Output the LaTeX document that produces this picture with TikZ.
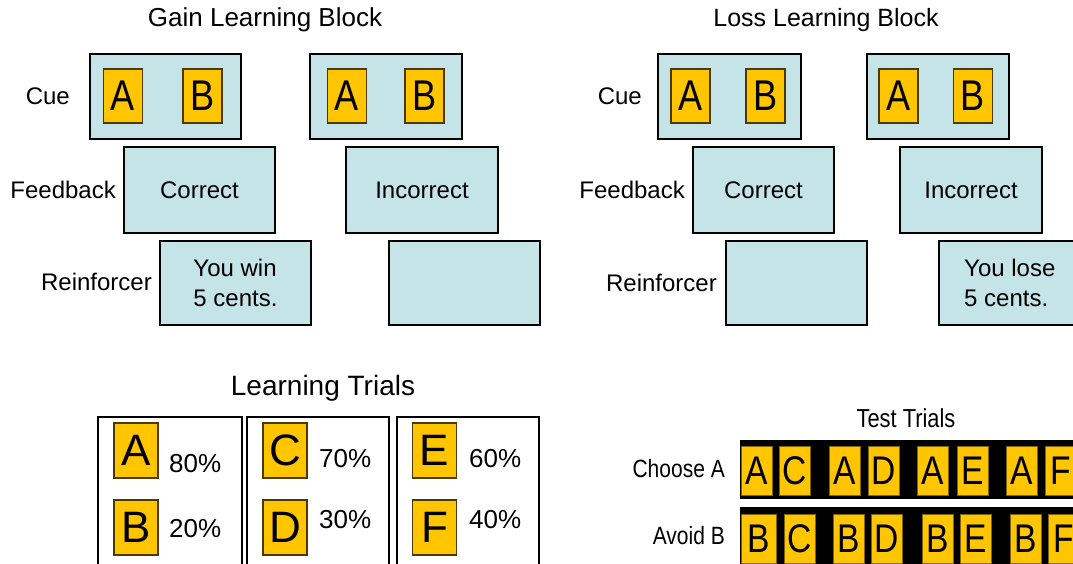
\documentclass[tikz,border=0pt]{standalone}
\usepackage{fontspec}
\setmainfont{Liberation Sans}
\newfontfamily\condfont[FakeStretch=0.84]{Liberation Sans}
\definecolor{paneblue}{HTML}{C5E4E8}
\definecolor{tilegold}{HTML}{FFC600}
\definecolor{tileedge}{HTML}{4A3A00}
\begin{document}
\begin{tikzpicture}[x=1pt,y=-1pt,
  pane/.style 2 args={draw=black,fill=paneblue,line width=2pt,inner sep=0pt,
    minimum width=#1,minimum height=#2},
  frame/.style 2 args={draw=black,fill=white,line width=2pt,inner sep=0pt,
    minimum width=#1,minimum height=#2},
  bar/.style 2 args={fill=black,inner sep=0pt,minimum width=#1,minimum height=#2},
  cuetile/.style={draw=tileedge,fill=tilegold,line width=1.2pt,inner sep=0pt,
    minimum width=39pt,minimum height=54pt,font=\condfont\fontsize{43}{43}\selectfont},
  optile/.style={draw=tileedge,fill=tilegold,line width=1.2pt,inner sep=0pt,
    minimum width=44pt,minimum height=55pt,font=\fontsize{44}{44}\selectfont},
  testtile/.style={draw=tileedge!70!tilegold,fill=tilegold,line width=0.8pt,inner sep=0pt,
    minimum width=#1,minimum height=49pt,font=\condfont\fontsize{40}{40}\selectfont},
  testtile/.default=31pt,
  title/.style={anchor=base,inner sep=0pt,font=\fontsize{26}{30}\selectfont},
  rowlabel/.style={anchor=base east,inner sep=0pt,font=\fontsize{24}{28}\selectfont},
  panetext/.style={inner sep=0pt,font=\fontsize{24}{30}\selectfont},
  pct/.style={anchor=base west,inner sep=0pt,font=\fontsize{26}{28}\selectfont},
  testlabel/.style={anchor=base east,inner sep=0pt,font=\condfont\fontsize{25}{28}\selectfont},
]
\useasboundingbox (0,0) rectangle (1073,564);

% ---------------- Gain learning block ----------------
\node[title] (gaintitle) at (265,27) {Gain Learning Block};
\node[rowlabel] (gaincue) at (70,105) {Cue};
\node[rowlabel] (gainfb) at (116,199) {Feedback};
\node[rowlabel] (gainre) at (152,290) {Reinforcer};

\node[pane={151pt}{85pt}] (gcue1) at (165.5,96.5) {};
\node[cuetile] (gcue1a) at (123,96) {A};
\node[cuetile] (gcue1b) at (202.5,96) {B};
\node[pane={152pt}{85pt}] (gcue2) at (386,96.5) {};
\node[cuetile] (gcue2a) at (347,96) {A};
\node[cuetile] (gcue2b) at (424.5,96) {B};

\node[pane={151pt}{86pt}] (gfb1) at (199.5,190) {};
\node[panetext] (gfb1t) at (gfb1) {Correct};
\node[pane={152pt}{86pt}] (gfb2) at (422,190) {};
\node[panetext] (gfb2t) at (gfb2) {Incorrect};

\node[pane={151pt}{84pt}] (gre1) at (235.5,283) {};
\node[panetext,align=left] (gre1t) at (gre1) {You win\\5 cents.};
\node[pane={151pt}{84pt}] (gre2) at (464.5,283) {};

% ---------------- Loss learning block ----------------
\node[title,font=\fontsize{25}{30}\selectfont] (losstitle) at (826,27) {Loss Learning Block};
\node[rowlabel] (losscue) at (642,105) {Cue};
\node[rowlabel] (lossfb) at (685,199) {Feedback};
\node[rowlabel] (lossre) at (717,291) {Reinforcer};

\node[pane={143pt}{85pt}] (lcue1) at (729.5,96.5) {};
\node[cuetile] (lcue1a) at (690.5,96) {A};
\node[cuetile] (lcue1b) at (765.5,96) {B};
\node[pane={142pt}{85pt}] (lcue2) at (938,96.5) {};
\node[cuetile] (lcue2a) at (898.5,96) {A};
\node[cuetile] (lcue2b) at (973,96) {B};

\node[pane={141pt}{86pt}] (lfb1) at (763.5,190) {};
\node[panetext] (lfb1t) at (lfb1) {Correct};
\node[pane={142pt}{86pt}] (lfb2) at (971,190) {};
\node[panetext] (lfb2t) at (lfb2) {Incorrect};

\node[pane={141pt}{84pt}] (lre1) at (796.5,283) {};
\node[pane={150pt}{84pt}] (lre2) at (1014,283) {};
\node[panetext,align=left,anchor=west] (lre2t) at (964,283) {You lose\\5 cents.};

% ---------------- Learning trials ----------------
\node[title,font=\fontsize{28}{32}\selectfont] (lttitle) at (323,395) {Learning Trials};

\node[frame={144pt}{170pt}] (lt1) at (170,502) {};
\node[frame={142pt}{170pt}] (lt2) at (318,502) {};
\node[frame={142pt}{170pt}] (lt3) at (468,502) {};

\node[optile] (ta) at (136,450.5) {A};
\node[optile] (tb) at (136,527.5) {B};
\node[optile] (tc) at (285,450.5) {C};
\node[optile] (td) at (285,527.5) {D};
\node[optile] (te) at (434.5,450.5) {E};
\node[optile] (tf) at (434.5,527.5) {F};

\node[pct] (pa) at (169,472) {80\%};
\node[pct] (pb) at (169,537) {20\%};
\node[pct] (pc) at (319,467) {70\%};
\node[pct] (pd) at (319,528) {30\%};
\node[pct] (pe) at (469,467) {60\%};
\node[pct] (pf) at (469,528) {40\%};

% ---------------- Test trials ----------------
\node[title,font=\condfont\fontsize{26}{30}\selectfont] (tttitle) at (906,427) {Test Trials};
\node[testlabel] (choose) at (725,477) {Choose A};
\node[testlabel] (avoid) at (725,544) {Avoid B};

\node[bar={340pt}{59pt},anchor=north west] (bar1) at (740,440) {};
\node[bar={340pt}{70pt},anchor=north west] (bar2) at (740,507) {};

\node[testtile] (c1) at (757,470.5) {A};
\node[testtile] (c2) at (795,470.5) {C};
\node[testtile] (c3) at (844.5,470.5) {A};
\node[testtile] (c4) at (883.5,470.5) {D};
\node[testtile] (c5) at (933,470.5) {A};
\node[testtile] (c6) at (972.5,470.5) {E};
\node[testtile] (c7) at (1021.5,470.5) {A};
\node[testtile] (c8) at (1060.5,470.5) {F};

\node[testtile=35pt] (a1) at (759,538.5) {B};
\node[testtile] (a2) at (799.5,538.5) {C};
\node[testtile] (a3) at (849,538.5) {B};
\node[testtile] (a4) at (887,538.5) {D};
\node[testtile] (a5) at (937.5,538.5) {B};
\node[testtile] (a6) at (976,538.5) {E};
\node[testtile] (a7) at (1026,538.5) {B};
\node[testtile] (a8) at (1064,538.5) {F};
\end{tikzpicture}
\end{document}
